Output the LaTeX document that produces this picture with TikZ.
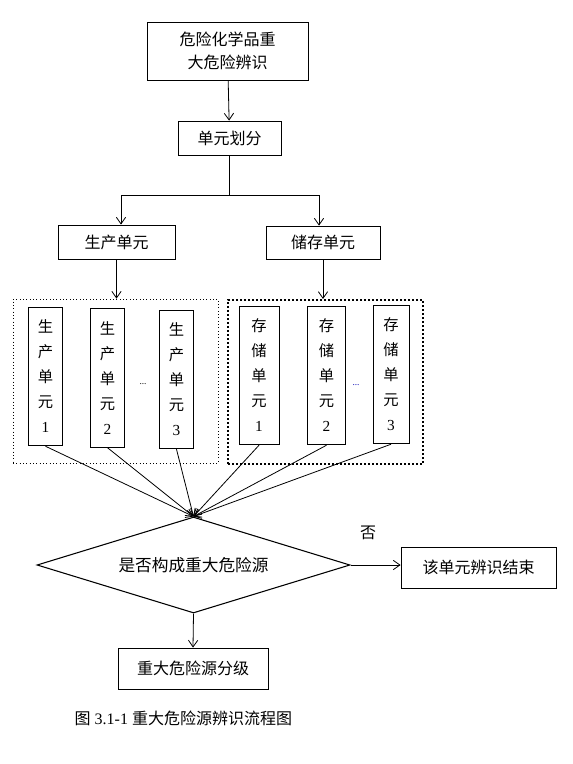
\documentclass[tikz,border=0pt]{standalone}
\usepackage{fontspec}
\setmainfont{Liberation Serif}
\newfontfamily\cjk{Noto Sans CJK SC}
\usetikzlibrary{arrows.meta, positioning, shapes.geometric}

\begin{document}
\begin{tikzpicture}[x=0.75pt, y=-0.75pt,
    box/.style={draw, line width=0.6pt, inner sep=0pt, align=center,
                font=\cjk\fontsize{12pt}{17.25pt}\selectfont},
    unitbox/.style={draw, line width=0.6pt, inner sep=0pt, align=center,
                    minimum width=25pt, minimum height=104pt,
                    font=\cjk\fontsize{11.5pt}{18.75pt}\selectfont},
    group/.style={draw, line width=0.5pt, dotted, inner sep=0pt},
    groupbold/.style={draw, line width=1.5pt, dash pattern=on 1.5pt off 1.5pt, inner sep=0pt},
    flow/.style={line width=0.6pt, -{Straight Barb[length=5pt, width=7pt]}},
    dots/.style={font=\scriptsize, inner sep=0pt}
  ]
  \useasboundingbox (0,0) rectangle (572,764);

  \node[box, minimum width=120.75pt, minimum height=43.5pt] (start) at (227.5,51)
    {危险化学品重\\大危险辨识};
  \node[box, minimum width=77.25pt, minimum height=25.5pt] (split) at (229.5,138)
    {单元划分};
  \node[box, minimum width=87.75pt, minimum height=25.5pt] (prod) at (116.5,242)
    {生产单元};
  \node[box, minimum width=85.5pt, minimum height=24.75pt] (stor) at (323,242.5)
    {储存单元};

  \node[group, minimum width=153.75pt, minimum height=123pt] (grpL) at (115.5,381) {};
  \node[groupbold, minimum width=146.25pt, minimum height=123pt] (grpR) at (325.5,382) {};

  \node[unitbox] (p1) at (45.5,376.5) {生\\产\\单\\元\\{\rmfamily 1}};
  \node[unitbox] (p2) at (107.5,378) {生\\产\\单\\元\\{\rmfamily 2}};
  \node[unitbox] (p3) at (176.5,379.5) {生\\产\\单\\元\\{\rmfamily 3}};
  \node[dots] (pdots) at (143,384) {...};
  \node[unitbox, minimum width=30pt] (s1) at (259,375.5) {存\\储\\单\\元\\{\rmfamily 1}};
  \node[unitbox, minimum width=29pt] (s2) at (326.5,375.5) {存\\储\\单\\元\\{\rmfamily 2}};
  \node[unitbox, minimum width=27pt] (s3) at (391,374.5) {存\\储\\单\\元\\{\rmfamily 3}};
  \node[dots, text=blue!70!black] (sdots) at (356,385) {...};

  \node[draw, diamond, aspect=3.26, line width=0.8pt, inner sep=0pt,
        minimum width=234.75pt, minimum height=72pt,
        font=\cjk\fontsize{12.5pt}{14pt}\selectfont] (check) at (193.5,565)
    {是否构成重大危险源};
  \node[box, minimum width=116.25pt, minimum height=30.75pt] (finish) at (478.5,567.5)
    {该单元辨识结束};
  \node[font=\cjk\fontsize{12pt}{14pt}\selectfont] (no) at (368,533) {否};
  \node[box, minimum width=112.5pt, minimum height=30.75pt] (grade) at (193,668.5)
    {重大危险源分级};

  \node[font=\fontsize{12pt}{14pt}\selectfont, anchor=west] (caption) at (70,718)
    {{\cjk 图} 3.1-1 {\cjk 重大危险源辨识流程图}};

  \coordinate (fork) at (229.5,195);
  \coordinate (forkL) at (121,195);
  \coordinate (forkR) at (319,195);

  \draw[flow] (start) -- (split);
  \draw[line width=0.6pt] (split.south) -- (fork);
  \draw[line width=0.6pt] (forkL) -- (forkR);
  \draw[flow] (forkL) -- (forkL |- prod.north);
  \draw[flow] (forkR) -- (forkR |- stor.north);
  \draw[flow] (prod.south) -- (prod.south |- grpL.north);
  \draw[flow] (stor.south) -- (stor.south |- grpR.north);

  \foreach \u in {p1, p2, p3, s1, s2, s3}
    \draw[flow] (\u.south) -- (check.north);

  \draw[flow] (check.east) -- (check.east -| finish.west);
  \draw[flow] (check.south) -- (grade.north);
\end{tikzpicture}
\end{document}
